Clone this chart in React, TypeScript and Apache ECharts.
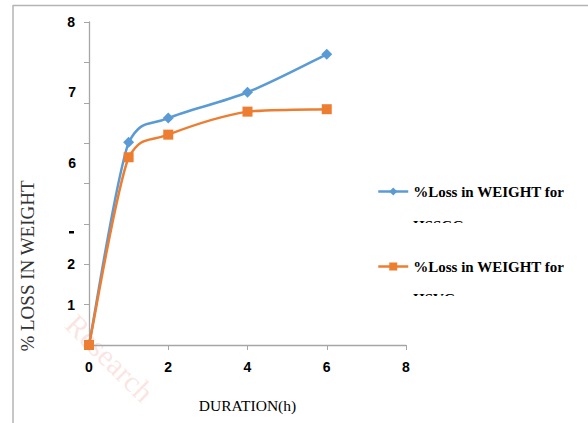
import React, { useEffect, useRef } from "react";
import * as echarts from "echarts";

const durations = [0, 1, 2, 4, 6];
const hsscg = [0, 5.02, 5.62, 6.26, 7.2];
const hsvg = [0, 4.65, 5.21, 5.78, 5.84];
const seriesNames = ["%Loss in WEIGHT for HSSCG", "%Loss in WEIGHT for HSVG"];
const seriesColors = ["#5B9BD5", "#ED7D31"];
const yTickLabels = ["", "1", "2", "", "", "", "", "", "8"];
const xTicks = [0, 2, 4, 6, 8];

function splinePath(pts: number[][]): string {
  // smoothed line: cubic Bezier with Catmull-Rom tangents, control y kept within each segment
  let d = `M${pts[0][0]},${pts[0][1]}`;
  const clamp = (v: number, a: number, b: number) => Math.min(Math.max(v, Math.min(a, b)), Math.max(a, b));
  for (let i = 0; i < pts.length - 1; i++) {
    const p0 = pts[Math.max(0, i - 1)];
    const p1 = pts[i];
    const p2 = pts[i + 1];
    const p3 = pts[Math.min(pts.length - 1, i + 2)];
    const t = 1 / 6;
    const c1x = p1[0] + (p2[0] - p0[0]) * t;
    const c1y = clamp(p1[1] + (p2[1] - p0[1]) * t, p1[1], p2[1]);
    const c2x = p2[0] - (p3[0] - p1[0]) * t;
    const c2y = clamp(p2[1] - (p3[1] - p1[1]) * t, p1[1], p2[1]);
    d += ` C${c1x},${c1y} ${c2x},${c2y} ${p2[0]},${p2[1]}`;
  }
  return d;
}

export default function App() {
  const ref = useRef<HTMLDivElement>(null);
  useEffect(() => {
    document.body.style.margin = "0";
    if (!ref.current) return;
    const chart = echarts.init(ref.current, undefined, { renderer: "svg" });
    const labelFont = "Liberation Sans Narrow, Liberation Sans, Arial, sans-serif";
    const serif = "Liberation Serif";
    const valueSets = [hsscg, hsvg];
    const curveSeries = valueSets.map((vals, k) => ({
      name: "_curve" + k,
      type: "custom",
      z: 1,
      silent: true,
      data: [[0, 0]],
      renderItem: (_params: any, api: any) => {
        const pts = durations.map((d, i) => api.coord([d, vals[i]]));
        return {
          type: "path",
          shape: { pathData: splinePath(pts) },
          style: { stroke: seriesColors[k], lineWidth: 2.5, fill: "none" },
        };
      },
    }));
    chart.setOption({
      animation: false,
      backgroundColor: "#ffffff",
      grid: { left: 89, top: 22, right: 182, bottom: 78, containLabel: false },
      xAxis: {
        type: "value",
        min: 0,
        max: 8,
        interval: 2,
        name: "DURATION(h)",
        nameLocation: "middle",
        nameGap: 52,
        nameTextStyle: { fontFamily: serif, fontSize: 15.5, color: "#000", verticalAlign: "top" },
        axisLine: { show: true, lineStyle: { color: "#a6a6a6", width: 1.3 } },
        axisTick: { show: true, length: 5, lineStyle: { color: "#a6a6a6" } },
        axisLabel: {
          margin: 15,
          fontFamily: labelFont,
          fontWeight: "bold",
          fontSize: 14,
          color: "#000",
          formatter: (v: number) => (xTicks.includes(v) ? String(v) : ""),
        },
        splitLine: { show: false },
      },
      yAxis: {
        type: "value",
        min: 0,
        max: 8,
        interval: 1,
        axisLine: { show: true, lineStyle: { color: "#a6a6a6", width: 1.3 } },
        axisTick: { show: true, length: 5, inside: false, lineStyle: { color: "#a6a6a6" } },
        axisLabel: {
          margin: 14,
          fontFamily: labelFont,
          fontWeight: "bold",
          fontSize: 14,
          color: "#000",
          formatter: (v: number) => yTickLabels[Math.round(v)] ?? "",
        },
        splitLine: { show: false },
      },
      legend: {
        orient: "vertical",
        left: 377,
        top: 184,
        padding: 0,
        itemGap: 60,
        itemWidth: 30,
        itemHeight: 10,
        lineStyle: { opacity: 1, width: 2.5 },
        formatter: () => "%Loss in WEIGHT for",
        textStyle: { fontFamily: serif, fontWeight: "bold", fontSize: 15, color: "#000" },
        data: seriesNames,
      },
      graphic: [
        {
          type: "text",
          x: 110,
          y: 358,
          z: -10,
          rotation: -0.78,
          style: {
            text: "Research",
            fontFamily: serif,
            fontSize: 30,
            fill: "rgba(235, 120, 110, 0.2)",
            textAlign: "center",
            textVerticalAlign: "middle",
          },
        },
        { type: "line", shape: { x1: 13, y1: 5.5, x2: 588, y2: 5.5 }, style: { stroke: "#b4b4b4", lineWidth: 1.5 } },
        { type: "line", shape: { x1: 13, y1: 5, x2: 13, y2: 423 }, style: { stroke: "#b4b4b4", lineWidth: 1.5 } },
        {
          type: "text",
          x: 27,
          y: 266,
          rotation: Math.PI / 2,
          style: {
            text: "% LOSS IN WEIGHT",
            fontFamily: serif,
            fontSize: 19,
            fill: "#333",
            textAlign: "center",
            textVerticalAlign: "middle",
          },
        },
        { type: "text", x: 76, y: 92, style: { text: "7", fontFamily: labelFont, fontWeight: "bold", fontSize: 14, fill: "#000", textAlign: "right", textVerticalAlign: "middle" } },
        { type: "text", x: 76, y: 163, style: { text: "6", fontFamily: labelFont, fontWeight: "bold", fontSize: 14, fill: "#000", textAlign: "right", textVerticalAlign: "middle" } },
        { type: "rect", shape: { x: 69, y: 231, width: 5, height: 2.5 }, style: { fill: "#000" } },
        { type: "text", x: 413, y: 226, style: { text: "HSSCG", fontFamily: serif, fontWeight: "bold", fontSize: 15, fill: "#000", textAlign: "left", textVerticalAlign: "middle" } },
        { type: "rect", shape: { x: 405, y: 223, width: 120, height: 14 }, style: { fill: "#ffffff" } },
        { type: "text", x: 413, y: 299, style: { text: "HSVG", fontFamily: serif, fontWeight: "bold", fontSize: 15, fill: "#000", textAlign: "left", textVerticalAlign: "middle" } },
        { type: "rect", shape: { x: 405, y: 296, width: 120, height: 14 }, style: { fill: "#ffffff" } },
      ],
      series: [
        ...valueSets.map((vals, k) => ({
          name: seriesNames[k],
          type: "line",
          z: 3,
          symbol: k === 0 ? "diamond" : "rect",
          symbolSize: k === 0 ? 11 : 10,
          data: durations.map((d, i) => [d, vals[i]]),
          itemStyle: { color: seriesColors[k] },
          lineStyle: { color: seriesColors[k], width: 2.5, opacity: 0 },
        })),
        ...curveSeries,
      ],
    });
    return () => chart.dispose();
  }, []);
  return <div ref={ref} style={{ width: 588, height: 423 }} />;
}
